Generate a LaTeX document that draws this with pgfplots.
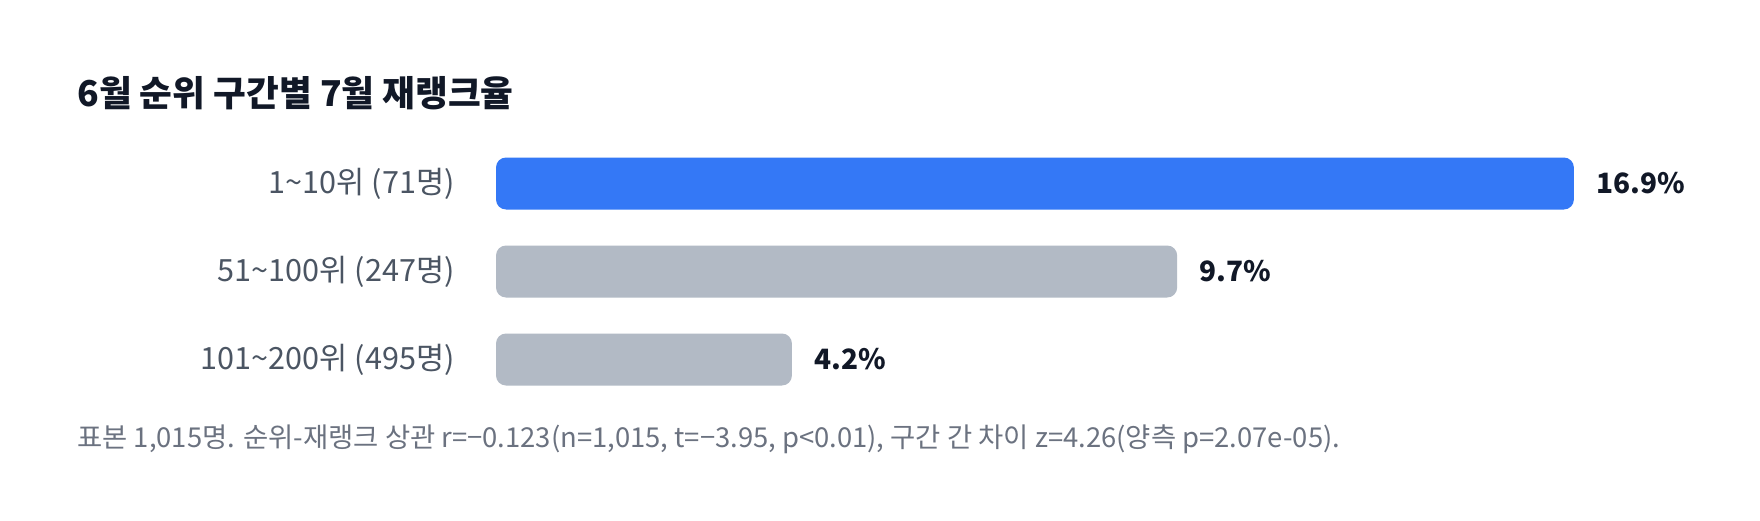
\documentclass[border=0pt]{standalone}
\usepackage{fontspec}
\setmainfont{Noto Sans CJK KR}
\usepackage{pgfplots}
\pgfplotsset{compat=1.18}
\definecolor{barblue}{HTML}{3478F6}
\definecolor{bargray}{HTML}{B2BAC5}
\definecolor{labgray}{HTML}{4B5563}
\definecolor{notegray}{HTML}{6B7280}
\definecolor{ink}{HTML}{111827}
\begin{document}
\begin{tikzpicture}
% page: 1760x520 px, 1 px = 0.5pt
\path[use as bounding box, fill=white] (0,0) rectangle (880pt,260pt);
\node[anchor=base west, inner sep=0pt, text=ink, font=\fontsize{17.8}{21}\selectfont\bfseries]
  at (38.5pt,206.5pt) {6월 순위 구간별 7월 재랭크율};
\begin{axis}[
    at={(248pt,168.25pt)}, anchor=origin,
    x=31.89pt, y=44pt, y dir=reverse,
    xmin=0, xmax=18, ymin=-0.5, ymax=2.5,
    xbar, bar width=26pt, bar shift=0pt,
    clip=false, axis line style={draw=none},
    xtick=\empty, major tick length=0pt,
    ytick={0,1,2},
    yticklabels={1\textasciitilde 10위 (71명), 51\textasciitilde 100위 (247명), 101\textasciitilde 200위 (495명)},
    yticklabel style={anchor=east, inner sep=0pt, xshift=-20.5pt, text=labgray, font=\fontsize{15.3}{18}\selectfont},
    point meta=explicit symbolic,
    nodes near coords,
    nodes near coords style={anchor=west, inner sep=0pt, xshift=11pt, text=ink, font=\fontsize{14}{16}\selectfont\bfseries},
]
% bar lengths as drawn in the reference, labels as printed
\addplot[fill=barblue, draw=none, rounded corners=5pt] coordinates {(16.9,0) [16.9\%]};
\addplot[fill=bargray, draw=none, rounded corners=5pt] coordinates {(10.68,1) [9.7\%] (4.64,2) [4.2\%]};
\end{axis}
\node[anchor=base west, inner sep=0pt, text=notegray, font=\fontsize{13.7}{16}\selectfont]
  at (38.5pt,36.5pt) {표본 1,015명. 순위-재랭크 상관 r=−0.123(n=1,015, t=−3.95, p<0.01), 구간 간 차이 z=4.26(양측 p=2.07e-05).};
\end{tikzpicture}
\end{document}
